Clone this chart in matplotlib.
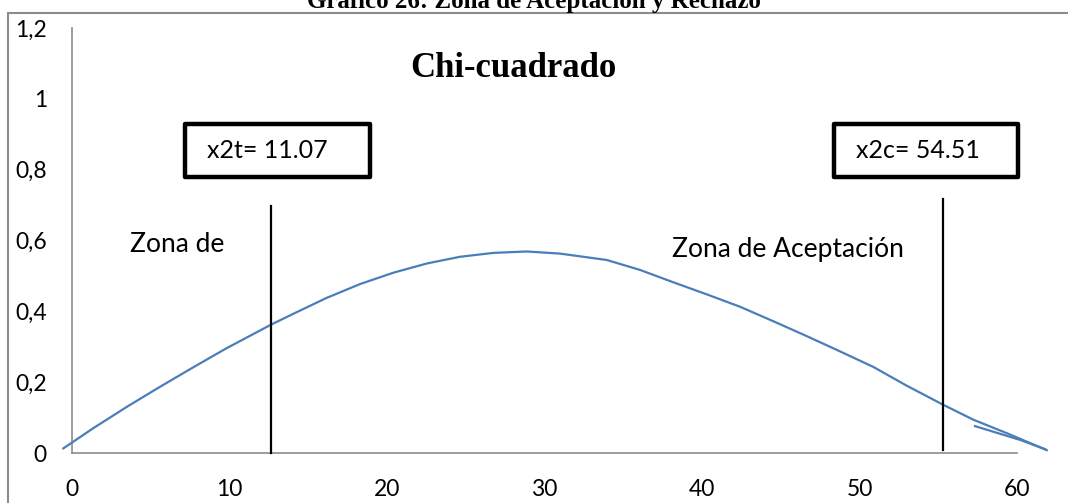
import matplotlib.pyplot as plt
from matplotlib.lines import Line2D
from matplotlib.patches import Rectangle

# curve
curve_x = [-0.55, 1.35, 3.47, 5.59, 7.70, 9.82, 12.62, 14.05, 16.17, 18.29,
           20.40, 22.52, 24.63, 26.75, 28.87, 30.98, 33.95, 36.06, 38.18,
           40.30, 42.41, 44.53, 46.65, 48.76, 50.88, 53.00, 55.32, 57.23,
           59.35, 61.89]
curve_y = [0.013, 0.070, 0.130, 0.187, 0.242, 0.296, 0.362, 0.393, 0.438, 0.477,
           0.509, 0.535, 0.554, 0.565, 0.569, 0.563, 0.545, 0.517, 0.482,
           0.448, 0.413, 0.372, 0.330, 0.287, 0.243, 0.190, 0.136, 0.094,
           0.056, 0.008]
# small extra stroke near the right end
tail_x = [57.33, 60.19, 61.78]
tail_y = [0.076, 0.037, 0.011]

# critical value markers
crit_x = [12.63, 55.30]
crit_bottom = [0.0, 0.008]
crit_top = [0.696, 0.716]

x_ticks = [0, 10, 20, 30, 40, 50, 60]
y_ticks = [0, 0.2, 0.4, 0.6, 0.8, 1.0, 1.2]
y_labels = ["0", "0,2", "0,4", "0,6", "0,8", "1", "1,2"]

box_labels = ["x2t= 11.07", "x2c= 54.51"]
box_x0 = [7.17, 48.4]
box_x1 = [18.9, 60.06]
box_y0, box_y1 = 0.779, 0.929

zone_labels = ["Zona de", "Zona de Aceptación"]
zone_x = [3.68, 38.1]
zone_y = [0.589, 0.575]

W, H = 1068, 503
fig = plt.figure(figsize=(W / 100, H / 100), dpi=100)
ax = fig.add_axes([72 / W, (H - 453) / H, (1017 - 72) / W, (453 - 28) / H])

sans = ["Lato", "DejaVu Sans"]
serif = ["Liberation Serif", "DejaVu Serif"]

ax.plot(curve_x, curve_y, color="#4A7EBB", lw=1.6, clip_on=False, zorder=3,
        solid_joinstyle="round")
ax.plot(tail_x, tail_y, color="#4A7EBB", lw=1.6, clip_on=False, zorder=3)

for x, b, t in zip(crit_x, crit_bottom, crit_top):
    ax.plot([x, x], [b, t], color="black", lw=1.6, clip_on=False, zorder=4)

for lbl, x0, x1 in zip(box_labels, box_x0, box_x1):
    ax.add_patch(Rectangle((x0, box_y0), x1 - x0, box_y1 - box_y0, fill=False,
                           ec="black", lw=3.2, joinstyle="round", clip_on=False))
    ax.text(x0 + 1.4, (box_y0 + box_y1) / 2, lbl, family=sans, fontsize=18,
            ha="left", va="center")

for lbl, x, y in zip(zone_labels, zone_x, zone_y):
    ax.text(x, y, lbl, family=sans, fontsize=19, ha="left", va="center")

ax.text(28.0, 1.085, "Chi-cuadrado", family=serif, fontweight="bold",
        fontsize=25, ha="center", va="center")

ax.set_xlim(0, 60)
ax.set_ylim(0, 1.2)
ax.set_xticks(x_ticks)
ax.set_xticklabels([str(v) for v in x_ticks], family=sans, fontsize=16.5)
ax.set_yticks(y_ticks)
ax.set_yticklabels(y_labels, family=sans, fontsize=16.5)
ax.tick_params(axis="both", length=0)
ax.tick_params(axis="x", pad=19)
ax.tick_params(axis="y", pad=18)

for s in ["top", "right"]:
    ax.spines[s].set_visible(False)
for s in ["left", "bottom"]:
    ax.spines[s].set_color("#8C8C8C")
    ax.spines[s].set_linewidth(1.2)

# outer chart frame, cut by the page edge
fig.add_artist(Line2D([8 / W, 1], [1 - 13 / H, 1 - 13 / H], color="#8C8C8C", lw=1.5))
fig.add_artist(Line2D([8 / W, 8 / W], [0, 1 - 13 / H], color="#8C8C8C", lw=1.5))

fig.text(534 / W, 1 - 8 / H, "Gráfico 26: Zona de Aceptación y Rechazo",
         family=serif, fontweight="bold", fontsize=18, ha="center", va="baseline")

fig.savefig("out.png", dpi=100)
